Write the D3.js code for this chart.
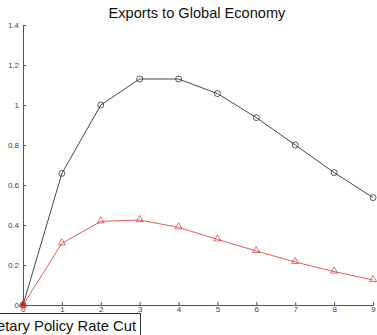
<!DOCTYPE html>
<html>
<head>
<meta charset="utf-8">
<script src="https://cdn.jsdelivr.net/npm/d3@7"></script>
<style>
  body { margin: 0; background: #fff; }
  svg { display: block; }
</style>
</head>
<body>
<div id="chart"></div>
<script>
// Chart data
const quarters = [0, 1, 2, 3, 4, 5, 6, 7, 8, 9];
const blackSeries = [0, 0.658, 1.0, 1.13, 1.13, 1.057, 0.937, 0.80, 0.662, 0.537];
const redSeries = [0, 0.308, 0.418, 0.425, 0.388, 0.328, 0.27, 0.215, 0.167, 0.125];
const yTicks = [0, 0.2, 0.4, 0.6, 0.8, 1, 1.2, 1.4];

const W = 377, H = 335;
const margin = { top: 25, right: 4, bottom: 30, left: 23 };
const width = 373 - margin.left;
const height = 305 - margin.top;

const svg = d3.select("#chart").append("svg")
    .attr("width", W).attr("height", H);

// Clipped caption box at bottom left (cut by the left edge, as in the source)
svg.append("rect")
    .attr("x", -10).attr("y", 313.5)
    .attr("width", 150.5).attr("height", 40)
    .attr("fill", "#fff").attr("stroke", "#333").attr("stroke-width", 1);

svg.append("text")
    .attr("x", 136).attr("y", 331)
    .attr("text-anchor", "end")
    .style("font-family", "Liberation Sans, Arial, sans-serif")
    .style("font-size", "14.8px")
    .style("fill", "#111")
    .text("Monetary Policy Rate Cut");

const g = svg.append("g")
    .attr("transform", `translate(${margin.left},${margin.top})`);

const x = d3.scaleLinear().domain([0, 9]).range([0, width]);
const y = d3.scaleLinear().domain([0, 1.4]).range([height, 0]);

// Title
svg.append("text")
    .attr("x", 197).attr("y", 18)
    .attr("text-anchor", "middle")
    .style("font-family", "Liberation Sans, Arial, sans-serif")
    .style("font-size", "14.6px")
    .style("fill", "#111")
    .text("Exports to Global Economy");

// Axes (ticks point inward)
const xAxis = g.append("g")
    .attr("transform", `translate(0,${height})`)
    .call(d3.axisBottom(x).tickValues(quarters).tickSize(-3).tickPadding(1.5).tickFormat(d3.format("d")));
const yAxis = g.append("g")
    .call(d3.axisLeft(y).tickValues(yTicks).tickSize(-3).tickPadding(4).tickFormat(d => d));

[xAxis, yAxis].forEach(a => {
    a.select(".domain").attr("stroke", "#555");
    a.selectAll(".tick line").attr("stroke", "#555");
    a.selectAll("text")
        .style("font-family", "Liberation Sans, Arial, sans-serif")
        .style("font-size", "8px")
        .style("fill", "#444");
});

// Lines
const line = d3.line().x((d, i) => x(quarters[i])).y(d => y(d));

g.append("path").datum(blackSeries)
    .attr("fill", "none").attr("stroke", "#333").attr("stroke-width", 0.9)
    .attr("d", line);

g.append("path").datum(redSeries)
    .attr("fill", "none").attr("stroke", "#e04848").attr("stroke-width", 0.9)
    .attr("d", line);

// Circle markers
g.selectAll(".circ").data(blackSeries).enter().append("circle")
    .attr("class", "circ")
    .attr("cx", (d, i) => x(quarters[i]))
    .attr("cy", d => y(d))
    .attr("r", 3)
    .attr("fill", "none").attr("stroke", "#333").attr("stroke-width", 0.8);

// Triangle markers
const tri = d3.symbol().type(d3.symbolTriangle).size(22);
g.selectAll(".tri").data(redSeries).enter().append("path")
    .attr("class", "tri")
    .attr("transform", (d, i) => `translate(${x(quarters[i])},${y(d) - 0.5})`)
    .attr("d", tri)
    .attr("fill", (d, i) => i === 0 ? "#c02020" : "none")
    .attr("stroke", "#e04848").attr("stroke-width", 0.8);
</script>
</body>
</html>
